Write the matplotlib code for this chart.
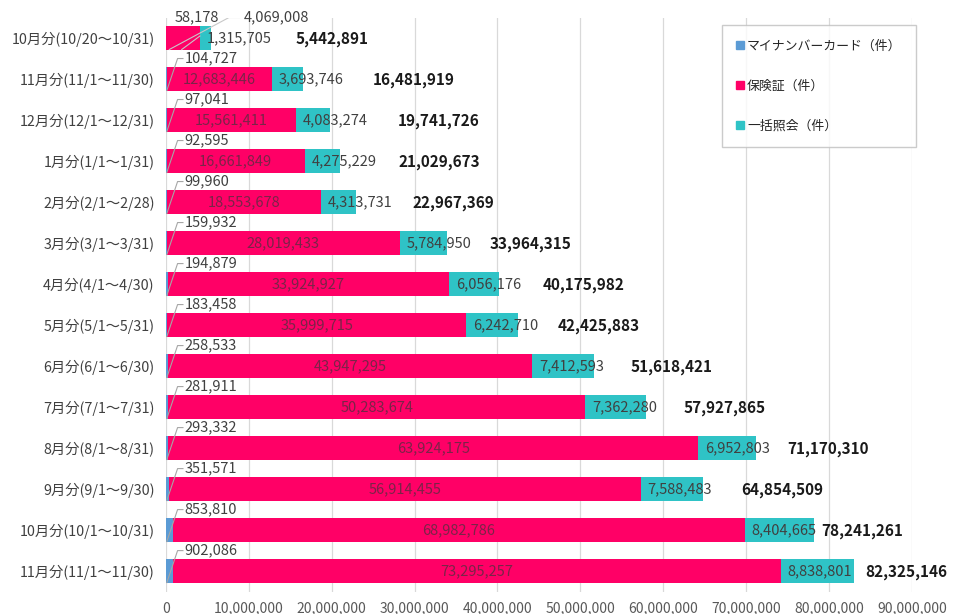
import matplotlib
matplotlib.use("Agg")
import matplotlib.pyplot as plt
from matplotlib.ticker import FuncFormatter
from matplotlib.patches import Patch

plt.rcParams['font.family'] = ['Noto Sans CJK JP', 'DejaVu Sans']

months = ["10月分(10/20～10/31)", "11月分(11/1～11/30)", "12月分(12/1～12/31)",
          "1月分(1/1～1/31)", "2月分(2/1～2/28)", "3月分(3/1～3/31)",
          "4月分(4/1～4/30)", "5月分(5/1～5/31)", "6月分(6/1～6/30)",
          "7月分(7/1～7/31)", "8月分(8/1～8/31)", "9月分(9/1～9/30)",
          "10月分(10/1～10/31)", "11月分(11/1～11/30)"]
mynumber = [58178, 104727, 97041, 92595, 99960, 159932, 194879,
            183458, 258533, 281911, 293332, 351571, 853810, 902086]
hokensho = [4069008, 12683446, 15561411, 16661849, 18553678, 28019433, 33924927,
            35999715, 43947295, 50283674, 63924175, 56914455, 68982786, 73295257]
ikkatsu = [1315705, 3693746, 4083274, 4275229, 4313731, 5784950, 6056176,
           6242710, 7412593, 7362280, 6952803, 7588483, 8404665, 8838801]
totals = [5442891, 16481919, 19741726, 21029673, 22967369, 33964315, 40175982,
          42425883, 51618421, 57927865, 71170310, 64854509, 78241261, 82325146]
legend_names = ["マイナンバーカード（件）", "保険証（件）", "一括照会（件）"]

# where the bold total labels start (x, in counts)
total_label_x = [15.6e6, 25.0e6, 28.0e6, 28.0e6, 29.8e6, 39.0e6, 45.4e6,
                 47.2e6, 56.0e6, 62.4e6, 75.0e6, 69.4e6, 79.1e6, 84.4e6]

c_blue = '#5b9bd5'
c_pink = '#ff0066'
c_teal = '#2fc3c6'
grid_c = '#d9d9d9'
lead_c = '#a6a6a6'

fig = plt.figure(figsize=(9.55, 6.14), dpi=100)
ax = fig.add_axes([0.1738, 0.0358, 0.781, 0.935])

y = list(range(len(months)))
h = 0.58
left2 = [a + b for a, b in zip(mynumber, hokensho)]
ax.barh(y, mynumber, height=h, color=c_blue, zorder=3)
ax.barh(y, hokensho, left=mynumber, height=h, color=c_pink, zorder=3)
ax.barh(y, ikkatsu, left=left2, height=h, color=c_teal, zorder=3)

lab_fs = 10.5
for i in y:
    # 保険証 label
    if i == 0:
        ax.text(9.4e6, i - 0.5, f"{hokensho[i]:,}", ha='left', va='center',
                fontsize=lab_fs, color='#404040', zorder=5)
        ax.plot([8.9e6, 7.6e6, 0.4e6], [i - 0.5, i - 0.5, i + 0.28],
                color='#c8c8c8', lw=0.8, zorder=4)
        ax.plot([4.1e6, 1.9e6], [i - 0.05, i + 0.28], color='#c8c8c8', lw=0.8, zorder=4)
        ax.text(1.1e6, i - 0.5, f"{mynumber[i]:,}", ha='left', va='center',
                fontsize=lab_fs, color='#404040', zorder=5)
    else:
        ax.text(mynumber[i] + hokensho[i] / 2, i, f"{hokensho[i]:,}", ha='center',
                va='center', fontsize=lab_fs, color='#7a2448', zorder=5)
        ax.text(2.25e6, i - 0.5, f"{mynumber[i]:,}", ha='left', va='center',
                fontsize=lab_fs, color='#404040', zorder=5)
        ax.plot([2.05e6, 1.4e6, 0.1e6], [i - 0.5, i - 0.5, i + 0.28],
                color=lead_c, lw=0.8, zorder=4)
    # 一括照会 label
    ax.annotate(f"{ikkatsu[i]:,}", xy=(left2[i], i), xytext=(5, 0),
                textcoords='offset points', ha='left', va='center',
                fontsize=lab_fs, color='#404040', zorder=5)
    # total
    ax.text(total_label_x[i], i + 0.03, f"{totals[i]:,}", ha='left', va='center',
            fontsize=11, fontweight='bold', color='#1a1a1a', zorder=5)

ax.set_xlim(0, 90e6)
ax.set_ylim(len(months) - 0.49, -0.49)
ax.set_xticks([k * 10e6 for k in range(10)])
ax.xaxis.set_major_formatter(FuncFormatter(lambda v, p: f"{int(v):,}"))
ax.set_yticks(y)
ax.set_yticklabels(months)
ax.tick_params(axis='both', length=0, colors='#595959')
ax.tick_params(axis='x', labelsize=10, pad=7)
ax.tick_params(axis='y', labelsize=10.3, pad=8)
for lbl in ax.get_yticklabels():
    lbl.set_color('#404040')
for s in ax.spines.values():
    s.set_visible(False)
ax.grid(axis='x', color=grid_c, lw=0.9, zorder=0)

handles = [Patch(color=c) for c in (c_blue, c_pink, c_teal)]
leg = ax.legend(handles, legend_names, loc='upper left',
                bbox_to_anchor=(0.756, 0.959), bbox_transform=fig.transFigure,
                fontsize=9.3, frameon=True, fancybox=False, edgecolor='#bfbfbf',
                handlelength=0.6, handleheight=0.6, handletextpad=0.25,
                labelspacing=2.1, borderpad=1.1, borderaxespad=0)
leg.get_frame().set_linewidth(1.0)
for t in leg.get_texts():
    t.set_color('#262626')

fig.savefig("out.png", dpi=100)
